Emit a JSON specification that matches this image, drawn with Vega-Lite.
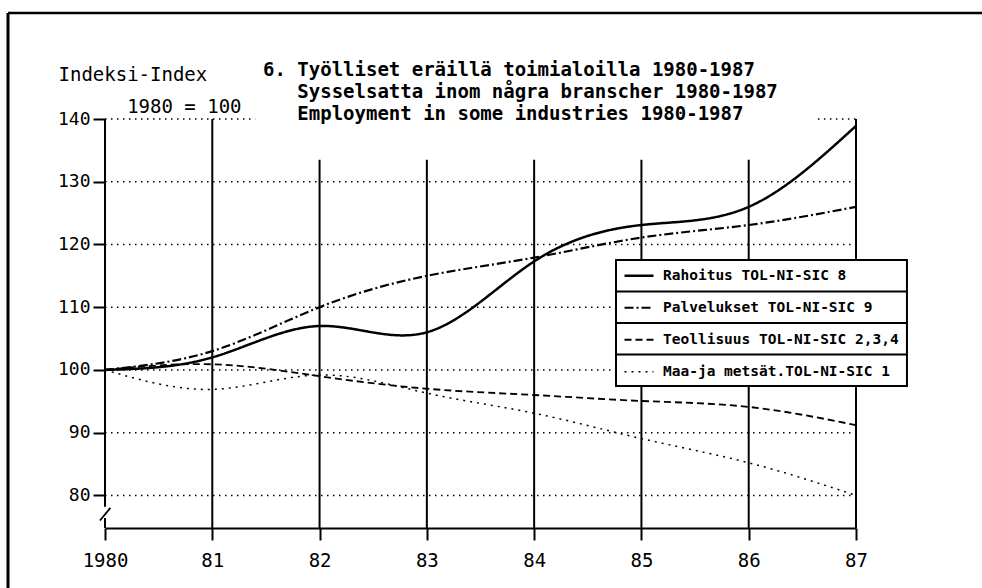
{
  "$schema": "https://vega.github.io/schema/vega-lite/v6.json",
  "width": 751,
  "height": 409,
  "autosize": {"type": "none"},
  "padding": {"left": 105, "top": 119, "right": 126, "bottom": 60},
  "background": "white",
  "config": {"view": {"stroke": null}, "font": "DejaVu Sans Mono"},
  "title": {
    "text": ["6. Työlliset eräillä toimialoilla 1980-1987", "\u200b\u00a0\u00a0\u00a0Sysselsatta inom några branscher 1980-1987", "\u200b\u00a0\u00a0\u00a0Employment in some industries 1980-1987"],
    "anchor": "start",
    "frame": "group",
    "dx": 158,
    "dy": 75,
    "offset": -53,
    "font": "DejaVu Sans Mono",
    "fontSize": 19,
    "fontWeight": "bold",
    "lineHeight": 22,
    "color": "black",
    "baseline": "alphabetic"
  },
  "layer": [
    {
      "data": {"values": [{"v": 80}, {"v": 90}, {"v": 100}, {"v": 110}, {"v": 120}, {"v": 130}]},
      "mark": {"type": "rule", "color": "black", "strokeWidth": 1.5, "strokeDash": [1.5, 4.5]},
      "encoding": {
        "x": {"datum": 1980, "type": "quantitative"},
        "x2": {"datum": 1987},
        "y": {"field": "v", "type": "quantitative"}
      }
    },
    {
      "data": {"values": [{}]},
      "mark": {"type": "rule", "color": "black", "strokeWidth": 1.5, "strokeDash": [1.5, 4.5]},
      "encoding": {
        "x": {"datum": 1980, "type": "quantitative"},
        "x2": {"datum": 1981.4},
        "y": {"datum": 140, "type": "quantitative"}
      }
    },
    {
      "data": {"values": [{}]},
      "mark": {"type": "rule", "color": "black", "strokeWidth": 1.5, "strokeDash": [1.5, 4.5]},
      "encoding": {
        "x": {"datum": 1986.645, "type": "quantitative"},
        "x2": {"datum": 1987},
        "y": {"datum": 140, "type": "quantitative"}
      }
    },
    {
      "data": {"values": [{"yr": 1981}, {"yr": 1987}]},
      "mark": {"type": "rule", "color": "black", "strokeWidth": 2},
      "encoding": {
        "x": {"field": "yr", "type": "quantitative"},
        "y": {"datum": 140, "type": "quantitative"},
        "y2": {"datum": 74.8}
      }
    },
    {
      "data": {"values": [{"yr": 1982}, {"yr": 1983}, {"yr": 1984}, {"yr": 1985}, {"yr": 1986}]},
      "mark": {"type": "rule", "color": "black", "strokeWidth": 2},
      "encoding": {
        "x": {"field": "yr", "type": "quantitative"},
        "y": {"datum": 133.5, "type": "quantitative"},
        "y2": {"datum": 74.8}
      }
    },
    {
      "data": {"values": [{}]},
      "mark": {"type": "rule", "color": "black", "strokeWidth": 2},
      "encoding": {
        "x": {"datum": 1980, "type": "quantitative"},
        "y": {"datum": 140, "type": "quantitative"},
        "y2": {"datum": 78.2}
      }
    },
    {
      "data": {"values": [{}]},
      "mark": {"type": "rule", "color": "black", "strokeWidth": 2},
      "encoding": {
        "x": {"datum": 1980, "type": "quantitative"},
        "y": {"datum": 76.4, "type": "quantitative"},
        "y2": {"datum": 74.8}
      }
    },
    {
      "data": {"values": [{}]},
      "mark": {"type": "rule", "color": "black", "strokeWidth": 1.8},
      "encoding": {
        "x": {"datum": 1979.953, "type": "quantitative"},
        "y": {"datum": 76.0, "type": "quantitative"},
        "x2": {"datum": 1980.05},
        "y2": {"datum": 78.0}
      }
    },
    {
      "data": {
        "values": [
          {"series": "Rahoitus TOL-NI-SIC 8", "year": 1980, "value": 100},
          {"series": "Rahoitus TOL-NI-SIC 8", "year": 1981, "value": 102},
          {"series": "Rahoitus TOL-NI-SIC 8", "year": 1982, "value": 107},
          {"series": "Rahoitus TOL-NI-SIC 8", "year": 1983, "value": 106},
          {"series": "Rahoitus TOL-NI-SIC 8", "year": 1984, "value": 117.3},
          {"series": "Rahoitus TOL-NI-SIC 8", "year": 1985, "value": 123.1},
          {"series": "Rahoitus TOL-NI-SIC 8", "year": 1986, "value": 126},
          {"series": "Rahoitus TOL-NI-SIC 8", "year": 1987, "value": 138.9},
          {"series": "Palvelukset TOL-NI-SIC 9", "year": 1980, "value": 100},
          {"series": "Palvelukset TOL-NI-SIC 9", "year": 1981, "value": 103},
          {"series": "Palvelukset TOL-NI-SIC 9", "year": 1982, "value": 110},
          {"series": "Palvelukset TOL-NI-SIC 9", "year": 1983, "value": 115},
          {"series": "Palvelukset TOL-NI-SIC 9", "year": 1984, "value": 117.9},
          {"series": "Palvelukset TOL-NI-SIC 9", "year": 1985, "value": 121.1},
          {"series": "Palvelukset TOL-NI-SIC 9", "year": 1986, "value": 123.1},
          {"series": "Palvelukset TOL-NI-SIC 9", "year": 1987, "value": 126},
          {"series": "Teollisuus TOL-NI-SIC 2,3,4", "year": 1980, "value": 100},
          {"series": "Teollisuus TOL-NI-SIC 2,3,4", "year": 1981, "value": 100.9},
          {"series": "Teollisuus TOL-NI-SIC 2,3,4", "year": 1982, "value": 99},
          {"series": "Teollisuus TOL-NI-SIC 2,3,4", "year": 1983, "value": 97},
          {"series": "Teollisuus TOL-NI-SIC 2,3,4", "year": 1984, "value": 96},
          {"series": "Teollisuus TOL-NI-SIC 2,3,4", "year": 1985, "value": 95.05},
          {"series": "Teollisuus TOL-NI-SIC 2,3,4", "year": 1986, "value": 94.1},
          {"series": "Teollisuus TOL-NI-SIC 2,3,4", "year": 1987, "value": 91.2},
          {"series": "Maa-ja metsät.TOL-NI-SIC 1", "year": 1980, "value": 100},
          {"series": "Maa-ja metsät.TOL-NI-SIC 1", "year": 1981, "value": 96.9},
          {"series": "Maa-ja metsät.TOL-NI-SIC 1", "year": 1982, "value": 99.2},
          {"series": "Maa-ja metsät.TOL-NI-SIC 1", "year": 1983, "value": 96.3},
          {"series": "Maa-ja metsät.TOL-NI-SIC 1", "year": 1984, "value": 93.1},
          {"series": "Maa-ja metsät.TOL-NI-SIC 1", "year": 1985, "value": 89.05},
          {"series": "Maa-ja metsät.TOL-NI-SIC 1", "year": 1986, "value": 85.2},
          {"series": "Maa-ja metsät.TOL-NI-SIC 1", "year": 1987, "value": 80}
        ]
      },
      "mark": {"type": "line", "color": "black", "interpolate": "natural"},
      "encoding": {
        "x": {
          "field": "year",
          "type": "quantitative",
          "scale": {"domain": [1980, 1987], "nice": false, "zero": false},
          "axis": {
            "values": [1980, 1981, 1982, 1983, 1984, 1985, 1986, 1987],
            "labelExpr": "datum.value == 1980 ? '1980' : '' + (datum.value - 1900)",
            "title": null,
            "grid": false,
            "domain": true,
            "domainColor": "black",
            "domainWidth": 2,
            "ticks": true,
            "tickColor": "black",
            "tickWidth": 2,
            "tickSize": 12,
            "labelFont": "DejaVu Sans Mono",
            "labelFontSize": 19,
            "labelColor": "black",
            "labelPadding": 11,
            "labelFlush": false,
            "labelOverlap": false
          }
        },
        "y": {
          "field": "value",
          "type": "quantitative",
          "scale": {"domain": [74.8, 140], "nice": false, "zero": false},
          "axis": {
            "values": [80, 90, 100, 110, 120, 130, 140],
            "title": ["Indeksi-Index", "\u200b\u00a0\u00a0\u00a0\u00a0\u00a0\u00a01980 = 100"],
            "titleAngle": 0,
            "titleAlign": "left",
            "titleBaseline": "alphabetic",
            "titleX": -47,
            "titleY": -39,
            "titleFont": "DejaVu Sans Mono",
            "titleFontSize": 19,
            "titleFontWeight": "normal",
            "titleColor": "black",
            "titleLineHeight": 32,
            "domain": false,
            "grid": false,
            "ticks": true,
            "tickColor": "black",
            "tickWidth": 2,
            "tickSize": 12,
            "labelFont": "DejaVu Sans Mono",
            "labelFontSize": 18,
            "labelColor": "black",
            "labelPadding": 3
          }
        },
        "strokeDash": {
          "field": "series",
          "type": "nominal",
          "scale": {
            "domain": ["Rahoitus TOL-NI-SIC 8", "Palvelukset TOL-NI-SIC 9", "Teollisuus TOL-NI-SIC 2,3,4", "Maa-ja metsät.TOL-NI-SIC 1"],
            "range": [[1, 0], [9, 3, 2, 3], [7, 4], [2, 5]]
          },
          "legend": {
            "orient": "none",
            "legendX": 518,
            "legendY": 141,
            "title": null,
            "symbolType": "stroke",
            "symbolSize": 841,
            "symbolStrokeWidth": 2,
            "symbolStrokeColor": "black",
            "labelFont": "DejaVu Sans Mono",
            "labelFontSize": 14.5,
            "labelFontWeight": "bold",
            "labelColor": "black",
            "labelOffset": 8,
            "labelLimit": 400,
            "clipHeight": 31.5,
            "rowPadding": 0,
            "padding": 0,
            "zindex": 1
          }
        },
        "strokeWidth": {
          "field": "series",
          "type": "nominal",
          "scale": {
            "domain": ["Rahoitus TOL-NI-SIC 8", "Palvelukset TOL-NI-SIC 9", "Teollisuus TOL-NI-SIC 2,3,4", "Maa-ja metsät.TOL-NI-SIC 1"],
            "range": [2.5, 1.5, 3, 2]
          },
          "legend": null
        }
      }
    },
    {
      "data": {"values": [{}]},
      "mark": {"type": "rect", "fill": "white", "stroke": "black", "strokeWidth": 2},
      "encoding": {
        "x": {"datum": 1984.763, "type": "quantitative"},
        "x2": {"datum": 1987.475},
        "y": {"datum": 117.52, "type": "quantitative"},
        "y2": {"datum": 97.44}
      }
    },
    {
      "data": {"values": [{"s": 112.5}, {"s": 107.48}, {"s": 102.46}]},
      "mark": {"type": "rule", "color": "black", "strokeWidth": 2},
      "encoding": {
        "x": {"datum": 1984.763, "type": "quantitative"},
        "x2": {"datum": 1987.475},
        "y": {"field": "s", "type": "quantitative"}
      }
    },
    {
      "data": {"values": [{}]},
      "mark": {"type": "rule", "color": "black", "strokeWidth": 3},
      "encoding": {
        "x": {"datum": 1979.096, "type": "quantitative"},
        "y": {"datum": 156.9, "type": "quantitative"},
        "y2": {"datum": 60}
      }
    },
    {
      "data": {"values": [{}]},
      "mark": {"type": "rule", "color": "black", "strokeWidth": 2.5},
      "encoding": {
        "x": {"datum": 1979.096, "type": "quantitative"},
        "x2": {"datum": 1990},
        "y": {"datum": 156.9, "type": "quantitative"}
      }
    }
  ]
}
